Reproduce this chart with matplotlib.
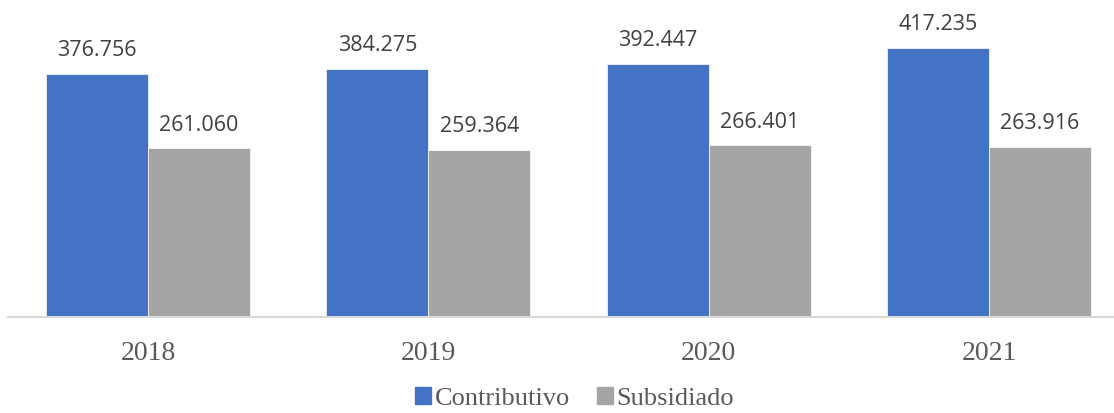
import numpy as np
import matplotlib.pyplot as plt
from matplotlib.patches import Patch

years = ['2018', '2019', '2020', '2021']
contributivo = [376.756, 384.275, 392.447, 417.235]
subsidiado = [261.060, 259.364, 266.401, 263.916]
series_names = ['Contributivo', 'Subsidiado']
colors = ['#4472C4', '#A5A5A5']

fig = plt.figure(figsize=(11.14, 4.13), dpi=100)
ax = fig.add_axes([8 / 1114, (413 - 317) / 413, 1 - 8 / 1114, 317 / 413])

x = np.arange(len(years))
w = 0.364
b1 = ax.bar(x - w / 2, contributivo, w, color=colors[0], edgecolor='white', linewidth=0.5)
b2 = ax.bar(x + w / 2, subsidiado, w, color=colors[1], edgecolor='white', linewidth=0.5)

for bars, vals in [(b1, contributivo), (b2, subsidiado)]:
    for r, v in zip(bars, vals):
        ax.annotate(f'{v:.3f}', (r.get_x() + r.get_width() / 2, v),
                    xytext=(0, 9), textcoords='offset points',
                    ha='center', va='bottom', fontsize=15.5,
                    family='Open Sans', color='#404040')

ax.set_xlim(-0.5, 3.446)
ax.set_ylim(0, 491)
ax.set_xticks(x)
ax.set_xticklabels(years, family='Liberation Serif', fontsize=20, color='#595959')
ax.tick_params(axis='x', length=0, pad=17)
ax.set_yticks([])
for s in ['top', 'right', 'left']:
    ax.spines[s].set_visible(False)
ax.spines['bottom'].set_color('#D9D9D9')
ax.spines['bottom'].set_linewidth(1.5)

handles = [Patch(color=c) for c in colors]
fig.legend(handles, series_names, loc='lower center', bbox_to_anchor=(0.516, -0.05),
           ncol=2, frameon=False, handlelength=0.6, handleheight=0.6,
           handletextpad=0.15, columnspacing=1.0,
           prop={'family': 'Liberation Serif', 'size': 19})
for t in fig.legends[0].get_texts():
    t.set_color('#595959')

fig.savefig('out.png', dpi=100)
